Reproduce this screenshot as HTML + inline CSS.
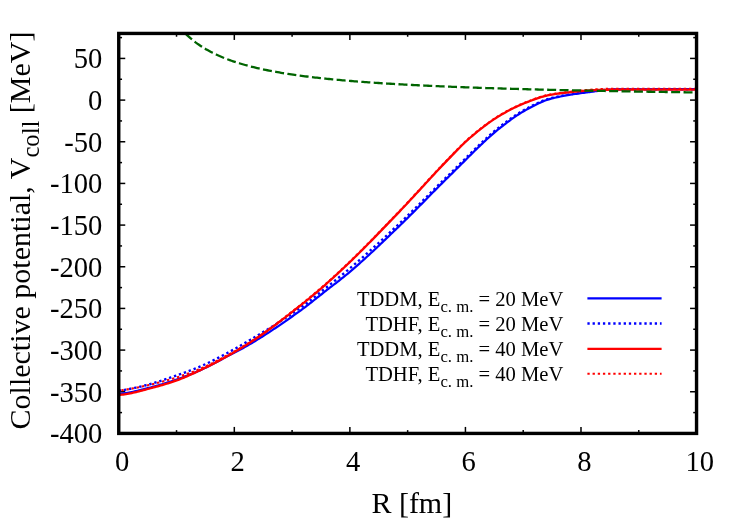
<!DOCTYPE html>
<html><head><meta charset="utf-8"><title>Collective potential</title>
<style>html,body{margin:0;padding:0;background:#fff;}body{width:747px;height:523px;position:relative;overflow:hidden;font-family:"Liberation Serif",serif;}</style>
</head><body>
<svg width="747" height="523" viewBox="0 0 747 523" style="position:absolute;left:0;top:0;will-change:transform">
<rect width="747" height="523" fill="#fff"/>
<g stroke="#000" stroke-width="1.5">
<line x1="118.75" y1="433.42" x2="125.25" y2="433.42"/>
<line x1="696.55" y1="433.42" x2="690.05" y2="433.42"/>
<line x1="118.75" y1="412.59" x2="122.05" y2="412.59"/>
<line x1="696.55" y1="412.59" x2="693.25" y2="412.59"/>
<line x1="118.75" y1="391.75" x2="125.25" y2="391.75"/>
<line x1="696.55" y1="391.75" x2="690.05" y2="391.75"/>
<line x1="118.75" y1="370.92" x2="122.05" y2="370.92"/>
<line x1="696.55" y1="370.92" x2="693.25" y2="370.92"/>
<line x1="118.75" y1="350.09" x2="125.25" y2="350.09"/>
<line x1="696.55" y1="350.09" x2="690.05" y2="350.09"/>
<line x1="118.75" y1="329.26" x2="122.05" y2="329.26"/>
<line x1="696.55" y1="329.26" x2="693.25" y2="329.26"/>
<line x1="118.75" y1="308.43" x2="125.25" y2="308.43"/>
<line x1="696.55" y1="308.43" x2="690.05" y2="308.43"/>
<line x1="118.75" y1="287.59" x2="122.05" y2="287.59"/>
<line x1="696.55" y1="287.59" x2="693.25" y2="287.59"/>
<line x1="118.75" y1="266.76" x2="125.25" y2="266.76"/>
<line x1="696.55" y1="266.76" x2="690.05" y2="266.76"/>
<line x1="118.75" y1="245.93" x2="122.05" y2="245.93"/>
<line x1="696.55" y1="245.93" x2="693.25" y2="245.93"/>
<line x1="118.75" y1="225.09" x2="125.25" y2="225.09"/>
<line x1="696.55" y1="225.09" x2="690.05" y2="225.09"/>
<line x1="118.75" y1="204.26" x2="122.05" y2="204.26"/>
<line x1="696.55" y1="204.26" x2="693.25" y2="204.26"/>
<line x1="118.75" y1="183.43" x2="125.25" y2="183.43"/>
<line x1="696.55" y1="183.43" x2="690.05" y2="183.43"/>
<line x1="118.75" y1="162.60" x2="122.05" y2="162.60"/>
<line x1="696.55" y1="162.60" x2="693.25" y2="162.60"/>
<line x1="118.75" y1="141.76" x2="125.25" y2="141.76"/>
<line x1="696.55" y1="141.76" x2="690.05" y2="141.76"/>
<line x1="118.75" y1="120.93" x2="122.05" y2="120.93"/>
<line x1="696.55" y1="120.93" x2="693.25" y2="120.93"/>
<line x1="118.75" y1="100.10" x2="125.25" y2="100.10"/>
<line x1="696.55" y1="100.10" x2="690.05" y2="100.10"/>
<line x1="118.75" y1="79.27" x2="122.05" y2="79.27"/>
<line x1="696.55" y1="79.27" x2="693.25" y2="79.27"/>
<line x1="118.75" y1="58.43" x2="125.25" y2="58.43"/>
<line x1="696.55" y1="58.43" x2="690.05" y2="58.43"/>
<line x1="118.75" y1="37.60" x2="122.05" y2="37.60"/>
<line x1="696.55" y1="37.60" x2="693.25" y2="37.60"/>
<line x1="118.75" y1="433.41999999999996" x2="118.75" y2="426.91999999999996"/>
<line x1="118.75" y1="33.43599999999999" x2="118.75" y2="39.93599999999999"/>
<line x1="176.53" y1="433.41999999999996" x2="176.53" y2="430.11999999999995"/>
<line x1="176.53" y1="33.43599999999999" x2="176.53" y2="36.73599999999999"/>
<line x1="234.31" y1="433.41999999999996" x2="234.31" y2="426.91999999999996"/>
<line x1="234.31" y1="33.43599999999999" x2="234.31" y2="39.93599999999999"/>
<line x1="292.09" y1="433.41999999999996" x2="292.09" y2="430.11999999999995"/>
<line x1="292.09" y1="33.43599999999999" x2="292.09" y2="36.73599999999999"/>
<line x1="349.87" y1="433.41999999999996" x2="349.87" y2="426.91999999999996"/>
<line x1="349.87" y1="33.43599999999999" x2="349.87" y2="39.93599999999999"/>
<line x1="407.65" y1="433.41999999999996" x2="407.65" y2="430.11999999999995"/>
<line x1="407.65" y1="33.43599999999999" x2="407.65" y2="36.73599999999999"/>
<line x1="465.43" y1="433.41999999999996" x2="465.43" y2="426.91999999999996"/>
<line x1="465.43" y1="33.43599999999999" x2="465.43" y2="39.93599999999999"/>
<line x1="523.21" y1="433.41999999999996" x2="523.21" y2="430.11999999999995"/>
<line x1="523.21" y1="33.43599999999999" x2="523.21" y2="36.73599999999999"/>
<line x1="580.99" y1="433.41999999999996" x2="580.99" y2="426.91999999999996"/>
<line x1="580.99" y1="33.43599999999999" x2="580.99" y2="39.93599999999999"/>
<line x1="638.77" y1="433.41999999999996" x2="638.77" y2="430.11999999999995"/>
<line x1="638.77" y1="33.43599999999999" x2="638.77" y2="36.73599999999999"/>
<line x1="696.55" y1="433.41999999999996" x2="696.55" y2="426.91999999999996"/>
<line x1="696.55" y1="33.43599999999999" x2="696.55" y2="39.93599999999999"/>
</g>
<g fill="none" stroke-linejoin="round">
<path d="M118.75,393.90 L120.20,393.78 L121.65,393.63 L123.09,393.46 L124.54,393.26 L125.99,393.05 L127.44,392.82 L128.89,392.57 L130.33,392.30 L131.78,392.01 L133.23,391.71 L134.68,391.40 L136.13,391.07 L137.58,390.73 L139.02,390.39 L140.47,390.03 L141.92,389.67 L143.37,389.31 L144.82,388.94 L146.26,388.56 L147.71,388.19 L149.16,387.82 L150.61,387.44 L152.06,387.06 L153.50,386.68 L154.95,386.28 L156.40,385.88 L157.85,385.47 L159.30,385.06 L160.75,384.63 L162.19,384.20 L163.64,383.76 L165.09,383.32 L166.54,382.87 L167.99,382.41 L169.43,381.95 L170.88,381.47 L172.33,381.00 L173.78,380.51 L175.23,380.02 L176.67,379.52 L178.12,379.02 L179.57,378.50 L181.02,377.98 L182.47,377.44 L183.92,376.90 L185.36,376.35 L186.81,375.79 L188.26,375.22 L189.71,374.64 L191.16,374.06 L192.60,373.46 L194.05,372.86 L195.50,372.25 L196.95,371.63 L198.40,371.00 L199.84,370.37 L201.29,369.72 L202.74,369.05 L204.19,368.37 L205.64,367.67 L207.09,366.96 L208.53,366.24 L209.98,365.50 L211.43,364.76 L212.88,364.01 L214.33,363.25 L215.77,362.48 L217.22,361.72 L218.67,360.95 L220.12,360.18 L221.57,359.41 L223.01,358.64 L224.46,357.88 L225.91,357.12 L227.36,356.37 L228.81,355.61 L230.26,354.86 L231.70,354.10 L233.15,353.35 L234.60,352.59 L236.05,351.82 L237.50,351.06 L238.94,350.28 L240.39,349.50 L241.84,348.72 L243.29,347.92 L244.74,347.12 L246.18,346.30 L247.63,345.48 L249.08,344.64 L250.53,343.79 L251.98,342.93 L253.43,342.06 L254.87,341.19 L256.32,340.31 L257.77,339.42 L259.22,338.52 L260.67,337.62 L262.11,336.71 L263.56,335.79 L265.01,334.87 L266.46,333.94 L267.91,333.00 L269.35,332.06 L270.80,331.11 L272.25,330.16 L273.70,329.20 L275.15,328.23 L276.60,327.26 L278.04,326.29 L279.49,325.30 L280.94,324.32 L282.39,323.32 L283.84,322.33 L285.28,321.33 L286.73,320.32 L288.18,319.31 L289.63,318.29 L291.08,317.27 L292.52,316.25 L293.97,315.22 L295.42,314.19 L296.87,313.15 L298.32,312.11 L299.77,311.07 L301.21,310.02 L302.66,308.95 L304.11,307.87 L305.56,306.78 L307.01,305.67 L308.45,304.55 L309.90,303.43 L311.35,302.30 L312.80,301.16 L314.25,300.01 L315.69,298.86 L317.14,297.71 L318.59,296.56 L320.04,295.41 L321.49,294.27 L322.93,293.12 L324.38,291.98 L325.83,290.85 L327.28,289.72 L328.73,288.60 L330.18,287.48 L331.62,286.36 L333.07,285.25 L334.52,284.13 L335.97,283.01 L337.42,281.89 L338.86,280.76 L340.31,279.62 L341.76,278.48 L343.21,277.32 L344.66,276.16 L346.10,274.98 L347.55,273.80 L349.00,272.59 L350.45,271.37 L351.90,270.14 L353.35,268.89 L354.79,267.64 L356.24,266.38 L357.69,265.11 L359.14,263.82 L360.59,262.53 L362.03,261.24 L363.48,259.93 L364.93,258.62 L366.38,257.30 L367.83,255.97 L369.27,254.64 L370.72,253.30 L372.17,251.95 L373.62,250.60 L375.07,249.24 L376.52,247.88 L377.96,246.51 L379.41,245.14 L380.86,243.77 L382.31,242.39 L383.76,241.01 L385.20,239.62 L386.65,238.24 L388.10,236.85 L389.55,235.46 L391.00,234.07 L392.44,232.67 L393.89,231.28 L395.34,229.89 L396.79,228.49 L398.24,227.10 L399.69,225.70 L401.13,224.31 L402.58,222.90 L404.03,221.49 L405.48,220.07 L406.93,218.65 L408.37,217.21 L409.82,215.78 L411.27,214.33 L412.72,212.89 L414.17,211.43 L415.61,209.98 L417.06,208.52 L418.51,207.05 L419.96,205.59 L421.41,204.12 L422.86,202.65 L424.30,201.18 L425.75,199.71 L427.20,198.23 L428.65,196.76 L430.10,195.29 L431.54,193.82 L432.99,192.35 L434.44,190.89 L435.89,189.43 L437.34,187.97 L438.78,186.51 L440.23,185.06 L441.68,183.61 L443.13,182.17 L444.58,180.73 L446.03,179.30 L447.47,177.87 L448.92,176.45 L450.37,175.04 L451.82,173.62 L453.27,172.20 L454.71,170.77 L456.16,169.33 L457.61,167.89 L459.06,166.45 L460.51,165.00 L461.95,163.55 L463.40,162.10 L464.85,160.65 L466.30,159.20 L467.75,157.76 L469.20,156.31 L470.64,154.87 L472.09,153.43 L473.54,152.00 L474.99,150.58 L476.44,149.16 L477.88,147.76 L479.33,146.36 L480.78,144.97 L482.23,143.59 L483.68,142.23 L485.12,140.88 L486.57,139.54 L488.02,138.22 L489.47,136.92 L490.92,135.63 L492.37,134.36 L493.81,133.11 L495.26,131.88 L496.71,130.67 L498.16,129.48 L499.61,128.31 L501.05,127.17 L502.50,126.03 L503.95,124.90 L505.40,123.78 L506.85,122.68 L508.29,121.59 L509.74,120.51 L511.19,119.45 L512.64,118.41 L514.09,117.39 L515.53,116.39 L516.98,115.42 L518.43,114.46 L519.88,113.54 L521.33,112.64 L522.78,111.77 L524.22,110.94 L525.67,110.13 L527.12,109.33 L528.57,108.53 L530.02,107.74 L531.46,106.96 L532.91,106.20 L534.36,105.45 L535.81,104.72 L537.26,104.00 L538.70,103.31 L540.15,102.65 L541.60,102.01 L543.05,101.41 L544.50,100.83 L545.95,100.30 L547.39,99.80 L548.84,99.34 L550.29,98.92 L551.74,98.53 L553.19,98.16 L554.63,97.80 L556.08,97.46 L557.53,97.14 L558.98,96.83 L560.43,96.53 L561.87,96.24 L563.32,95.97 L564.77,95.70 L566.22,95.44 L567.67,95.19 L569.12,94.95 L570.56,94.71 L572.01,94.47 L573.46,94.24 L574.91,94.01 L576.36,93.79 L577.80,93.58 L579.25,93.38 L580.70,93.18 L582.15,92.99 L583.60,92.81 L585.04,92.63 L586.49,92.44 L587.94,92.26 L589.39,92.08 L590.84,91.89 L592.29,91.69 L593.73,91.49 L595.18,91.28 L596.63,91.08 L598.08,90.89 L599.53,90.70 L600.97,90.53 L602.42,90.37 L603.87,90.24 L605.32,90.12 L606.77,90.00 L608.21,89.89 L609.66,89.78 L611.11,89.67 L612.56,89.57 L614.01,89.49 L615.46,89.42 L616.90,89.36 L618.35,89.32 L619.80,89.30 L621.25,89.30 L622.70,89.29 L624.14,89.29 L625.59,89.28 L627.04,89.28 L628.49,89.27 L629.94,89.27 L631.38,89.27 L632.83,89.26 L634.28,89.26 L635.73,89.26 L637.18,89.25 L638.63,89.25 L640.07,89.25 L641.52,89.24 L642.97,89.24 L644.42,89.24 L645.87,89.24 L647.31,89.23 L648.76,89.23 L650.21,89.23 L651.66,89.23 L653.11,89.23 L654.55,89.22 L656.00,89.22 L657.45,89.22 L658.90,89.22 L660.35,89.22 L661.80,89.22 L663.24,89.21 L664.69,89.21 L666.14,89.21 L667.59,89.21 L669.04,89.21 L670.48,89.21 L671.93,89.21 L673.38,89.21 L674.83,89.21 L676.28,89.20 L677.72,89.20 L679.17,89.20 L680.62,89.20 L682.07,89.20 L683.52,89.20 L684.97,89.20 L686.41,89.20 L687.86,89.20 L689.31,89.20 L690.76,89.20 L692.21,89.20 L693.65,89.20 L695.10,89.20 L696.55,89.20" stroke="#0000ff" stroke-width="2.2"/>
<path d="M118.75,390.70 L120.20,390.54 L121.65,390.33 L123.09,390.11 L124.54,389.88 L125.99,389.63 L127.44,389.36 L128.89,389.09 L130.33,388.80 L131.78,388.51 L133.23,388.21 L134.68,387.89 L136.13,387.57 L137.58,387.24 L139.02,386.91 L140.47,386.56 L141.92,386.21 L143.37,385.85 L144.82,385.49 L146.26,385.11 L147.71,384.74 L149.16,384.36 L150.61,383.97 L152.06,383.56 L153.50,383.14 L154.95,382.71 L156.40,382.27 L157.85,381.81 L159.30,381.35 L160.75,380.88 L162.19,380.41 L163.64,379.92 L165.09,379.43 L166.54,378.94 L167.99,378.44 L169.43,377.94 L170.88,377.43 L172.33,376.93 L173.78,376.43 L175.23,375.92 L176.67,375.42 L178.12,374.91 L179.57,374.40 L181.02,373.89 L182.47,373.37 L183.92,372.86 L185.36,372.33 L186.81,371.80 L188.26,371.26 L189.71,370.72 L191.16,370.17 L192.60,369.61 L194.05,369.04 L195.50,368.46 L196.95,367.87 L198.40,367.28 L199.84,366.67 L201.29,366.04 L202.74,365.40 L204.19,364.75 L205.64,364.09 L207.09,363.41 L208.53,362.72 L209.98,362.01 L211.43,361.30 L212.88,360.58 L214.33,359.85 L215.77,359.12 L217.22,358.37 L218.67,357.62 L220.12,356.87 L221.57,356.11 L223.01,355.35 L224.46,354.58 L225.91,353.82 L227.36,353.04 L228.81,352.25 L230.26,351.46 L231.70,350.66 L233.15,349.84 L234.60,349.03 L236.05,348.20 L237.50,347.37 L238.94,346.53 L240.39,345.69 L241.84,344.84 L243.29,343.99 L244.74,343.14 L246.18,342.28 L247.63,341.41 L249.08,340.55 L250.53,339.68 L251.98,338.82 L253.43,337.95 L254.87,337.08 L256.32,336.21 L257.77,335.34 L259.22,334.47 L260.67,333.60 L262.11,332.72 L263.56,331.84 L265.01,330.96 L266.46,330.08 L267.91,329.19 L269.35,328.30 L270.80,327.41 L272.25,326.51 L273.70,325.61 L275.15,324.71 L276.60,323.80 L278.04,322.88 L279.49,321.96 L280.94,321.03 L282.39,320.10 L283.84,319.16 L285.28,318.22 L286.73,317.27 L288.18,316.31 L289.63,315.35 L291.08,314.37 L292.52,313.39 L293.97,312.40 L295.42,311.41 L296.87,310.40 L298.32,309.39 L299.77,308.37 L301.21,307.33 L302.66,306.27 L304.11,305.20 L305.56,304.10 L307.01,302.99 L308.45,301.87 L309.90,300.73 L311.35,299.59 L312.80,298.43 L314.25,297.27 L315.69,296.11 L317.14,294.94 L318.59,293.76 L320.04,292.59 L321.49,291.42 L322.93,290.25 L324.38,289.09 L325.83,287.94 L327.28,286.78 L328.73,285.63 L330.18,284.48 L331.62,283.32 L333.07,282.17 L334.52,281.01 L335.97,279.85 L337.42,278.68 L338.86,277.52 L340.31,276.34 L341.76,275.16 L343.21,273.98 L344.66,272.78 L346.10,271.58 L347.55,270.37 L349.00,269.15 L350.45,267.92 L351.90,266.68 L353.35,265.44 L354.79,264.19 L356.24,262.93 L357.69,261.67 L359.14,260.41 L360.59,259.14 L362.03,257.86 L363.48,256.58 L364.93,255.29 L366.38,254.00 L367.83,252.71 L369.27,251.41 L370.72,250.11 L372.17,248.80 L373.62,247.49 L375.07,246.17 L376.52,244.85 L377.96,243.53 L379.41,242.20 L380.86,240.87 L382.31,239.53 L383.76,238.20 L385.20,236.85 L386.65,235.51 L388.10,234.16 L389.55,232.81 L391.00,231.46 L392.44,230.11 L393.89,228.75 L395.34,227.39 L396.79,226.03 L398.24,224.66 L399.69,223.30 L401.13,221.93 L402.58,220.55 L404.03,219.16 L405.48,217.77 L406.93,216.37 L408.37,214.96 L409.82,213.54 L411.27,212.13 L412.72,210.70 L414.17,209.27 L415.61,207.84 L417.06,206.40 L418.51,204.96 L419.96,203.51 L421.41,202.07 L422.86,200.62 L424.30,199.17 L425.75,197.72 L427.20,196.27 L428.65,194.81 L430.10,193.36 L431.54,191.91 L432.99,190.46 L434.44,189.01 L435.89,187.57 L437.34,186.13 L438.78,184.69 L440.23,183.25 L441.68,181.82 L443.13,180.39 L444.58,178.97 L446.03,177.56 L447.47,176.15 L448.92,174.74 L450.37,173.34 L451.82,171.94 L453.27,170.53 L454.71,169.11 L456.16,167.68 L457.61,166.25 L459.06,164.82 L460.51,163.38 L461.95,161.94 L463.40,160.49 L464.85,159.05 L466.30,157.60 L467.75,156.16 L469.20,154.72 L470.64,153.28 L472.09,151.85 L473.54,150.43 L474.99,149.01 L476.44,147.60 L477.88,146.19 L479.33,144.80 L480.78,143.42 L482.23,142.05 L483.68,140.69 L485.12,139.35 L486.57,138.02 L488.02,136.71 L489.47,135.41 L490.92,134.13 L492.37,132.88 L493.81,131.64 L495.26,130.42 L496.71,129.23 L498.16,128.06 L499.61,126.91 L501.05,125.78 L502.50,124.66 L503.95,123.56 L505.40,122.46 L506.85,121.38 L508.29,120.31 L509.74,119.25 L511.19,118.22 L512.64,117.20 L514.09,116.21 L515.53,115.23 L516.98,114.28 L518.43,113.35 L519.88,112.45 L521.33,111.58 L522.78,110.74 L524.22,109.92 L525.67,109.14 L527.12,108.36 L528.57,107.59 L530.02,106.83 L531.46,106.08 L532.91,105.34 L534.36,104.61 L535.81,103.91 L537.26,103.22 L538.70,102.55 L540.15,101.91 L541.60,101.30 L543.05,100.72 L544.50,100.17 L545.95,99.65 L547.39,99.17 L548.84,98.72 L550.29,98.32 L551.74,97.95 L553.19,97.59 L554.63,97.25 L556.08,96.93 L557.53,96.62 L558.98,96.32 L560.43,96.03 L561.87,95.76 L563.32,95.50 L564.77,95.24 L566.22,95.00 L567.67,94.76 L569.12,94.52 L570.56,94.29 L572.01,94.06 L573.46,93.84 L574.91,93.61 L576.36,93.39 L577.80,93.18 L579.25,92.98 L580.70,92.78 L582.15,92.58 L583.60,92.40 L585.04,92.21 L586.49,92.03 L587.94,91.85 L589.39,91.67 L590.84,91.50 L592.29,91.31 L593.73,91.12 L595.18,90.93 L596.63,90.75 L598.08,90.57 L599.53,90.41 L600.97,90.26 L602.42,90.13 L603.87,90.03 L605.32,89.94 L606.77,89.86 L608.21,89.78 L609.66,89.71 L611.11,89.64 L612.56,89.58 L614.01,89.52 L615.46,89.48 L616.90,89.44 L618.35,89.41 L619.80,89.40 L621.25,89.40 L622.70,89.39 L624.14,89.39 L625.59,89.38 L627.04,89.38 L628.49,89.38 L629.94,89.37 L631.38,89.37 L632.83,89.36 L634.28,89.36 L635.73,89.36 L637.18,89.35 L638.63,89.35 L640.07,89.35 L641.52,89.35 L642.97,89.34 L644.42,89.34 L645.87,89.34 L647.31,89.34 L648.76,89.33 L650.21,89.33 L651.66,89.33 L653.11,89.33 L654.55,89.32 L656.00,89.32 L657.45,89.32 L658.90,89.32 L660.35,89.32 L661.80,89.32 L663.24,89.31 L664.69,89.31 L666.14,89.31 L667.59,89.31 L669.04,89.31 L670.48,89.31 L671.93,89.31 L673.38,89.31 L674.83,89.31 L676.28,89.30 L677.72,89.30 L679.17,89.30 L680.62,89.30 L682.07,89.30 L683.52,89.30 L684.97,89.30 L686.41,89.30 L687.86,89.30 L689.31,89.30 L690.76,89.30 L692.21,89.30 L693.65,89.30 L695.10,89.30 L696.55,89.30" stroke="#0000ff" stroke-width="2.4" stroke-dasharray="2.4 2.8"/>
<path d="M118.75,395.00 L120.20,394.88 L121.65,394.73 L123.09,394.56 L124.54,394.37 L125.99,394.15 L127.44,393.91 L128.89,393.65 L130.33,393.36 L131.78,393.06 L133.23,392.74 L134.68,392.40 L136.13,392.06 L137.58,391.70 L139.02,391.33 L140.47,390.95 L141.92,390.56 L143.37,390.18 L144.82,389.79 L146.26,389.40 L147.71,389.01 L149.16,388.62 L150.61,388.24 L152.06,387.86 L153.50,387.47 L154.95,387.08 L156.40,386.69 L157.85,386.29 L159.30,385.89 L160.75,385.48 L162.19,385.06 L163.64,384.64 L165.09,384.21 L166.54,383.77 L167.99,383.32 L169.43,382.86 L170.88,382.39 L172.33,381.91 L173.78,381.42 L175.23,380.92 L176.67,380.40 L178.12,379.87 L179.57,379.31 L181.02,378.75 L182.47,378.17 L183.92,377.57 L185.36,376.96 L186.81,376.34 L188.26,375.71 L189.71,375.07 L191.16,374.42 L192.60,373.76 L194.05,373.10 L195.50,372.42 L196.95,371.74 L198.40,371.06 L199.84,370.37 L201.29,369.68 L202.74,368.98 L204.19,368.28 L205.64,367.57 L207.09,366.85 L208.53,366.12 L209.98,365.39 L211.43,364.66 L212.88,363.91 L214.33,363.16 L215.77,362.40 L217.22,361.64 L218.67,360.87 L220.12,360.09 L221.57,359.31 L223.01,358.52 L224.46,357.72 L225.91,356.92 L227.36,356.11 L228.81,355.29 L230.26,354.47 L231.70,353.64 L233.15,352.81 L234.60,351.96 L236.05,351.11 L237.50,350.26 L238.94,349.40 L240.39,348.53 L241.84,347.65 L243.29,346.77 L244.74,345.88 L246.18,344.99 L247.63,344.09 L249.08,343.18 L250.53,342.26 L251.98,341.34 L253.43,340.40 L254.87,339.45 L256.32,338.48 L257.77,337.51 L259.22,336.52 L260.67,335.53 L262.11,334.52 L263.56,333.50 L265.01,332.47 L266.46,331.44 L267.91,330.39 L269.35,329.34 L270.80,328.28 L272.25,327.21 L273.70,326.14 L275.15,325.05 L276.60,323.96 L278.04,322.87 L279.49,321.77 L280.94,320.66 L282.39,319.55 L283.84,318.44 L285.28,317.32 L286.73,316.19 L288.18,315.07 L289.63,313.94 L291.08,312.81 L292.52,311.67 L293.97,310.54 L295.42,309.40 L296.87,308.26 L298.32,307.12 L299.77,305.98 L301.21,304.84 L302.66,303.69 L304.11,302.54 L305.56,301.37 L307.01,300.20 L308.45,299.02 L309.90,297.83 L311.35,296.63 L312.80,295.43 L314.25,294.22 L315.69,293.00 L317.14,291.78 L318.59,290.54 L320.04,289.30 L321.49,288.06 L322.93,286.80 L324.38,285.54 L325.83,284.27 L327.28,282.99 L328.73,281.71 L330.18,280.41 L331.62,279.10 L333.07,277.79 L334.52,276.47 L335.97,275.14 L337.42,273.80 L338.86,272.46 L340.31,271.11 L341.76,269.75 L343.21,268.38 L344.66,267.01 L346.10,265.63 L347.55,264.25 L349.00,262.86 L350.45,261.47 L351.90,260.07 L353.35,258.66 L354.79,257.24 L356.24,255.82 L357.69,254.40 L359.14,252.96 L360.59,251.53 L362.03,250.08 L363.48,248.63 L364.93,247.18 L366.38,245.72 L367.83,244.26 L369.27,242.79 L370.72,241.32 L372.17,239.84 L373.62,238.36 L375.07,236.88 L376.52,235.39 L377.96,233.90 L379.41,232.41 L380.86,230.92 L382.31,229.42 L383.76,227.92 L385.20,226.42 L386.65,224.91 L388.10,223.41 L389.55,221.90 L391.00,220.39 L392.44,218.88 L393.89,217.37 L395.34,215.86 L396.79,214.35 L398.24,212.84 L399.69,211.33 L401.13,209.81 L402.58,208.29 L404.03,206.76 L405.48,205.23 L406.93,203.68 L408.37,202.14 L409.82,200.58 L411.27,199.02 L412.72,197.46 L414.17,195.89 L415.61,194.32 L417.06,192.75 L418.51,191.17 L419.96,189.60 L421.41,188.02 L422.86,186.44 L424.30,184.86 L425.75,183.28 L427.20,181.71 L428.65,180.13 L430.10,178.56 L431.54,176.99 L432.99,175.43 L434.44,173.87 L435.89,172.31 L437.34,170.76 L438.78,169.21 L440.23,167.67 L441.68,166.14 L443.13,164.62 L444.58,163.10 L446.03,161.59 L447.47,160.09 L448.92,158.60 L450.37,157.12 L451.82,155.64 L453.27,154.15 L454.71,152.65 L456.16,151.16 L457.61,149.67 L459.06,148.19 L460.51,146.73 L461.95,145.28 L463.40,143.86 L464.85,142.47 L466.30,141.11 L467.75,139.78 L469.20,138.50 L470.64,137.25 L472.09,136.02 L473.54,134.81 L474.99,133.60 L476.44,132.41 L477.88,131.23 L479.33,130.07 L480.78,128.92 L482.23,127.79 L483.68,126.68 L485.12,125.58 L486.57,124.50 L488.02,123.44 L489.47,122.40 L490.92,121.38 L492.37,120.38 L493.81,119.40 L495.26,118.45 L496.71,117.52 L498.16,116.62 L499.61,115.74 L501.05,114.88 L502.50,114.03 L503.95,113.20 L505.40,112.39 L506.85,111.59 L508.29,110.81 L509.74,110.04 L511.19,109.29 L512.64,108.55 L514.09,107.83 L515.53,107.13 L516.98,106.45 L518.43,105.78 L519.88,105.14 L521.33,104.51 L522.78,103.90 L524.22,103.31 L525.67,102.74 L527.12,102.17 L528.57,101.60 L530.02,101.04 L531.46,100.49 L532.91,99.94 L534.36,99.41 L535.81,98.88 L537.26,98.38 L538.70,97.89 L540.15,97.42 L541.60,96.97 L543.05,96.55 L544.50,96.15 L545.95,95.78 L547.39,95.43 L548.84,95.12 L550.29,94.85 L551.74,94.59 L553.19,94.35 L554.63,94.12 L556.08,93.90 L557.53,93.69 L558.98,93.49 L560.43,93.30 L561.87,93.12 L563.32,92.95 L564.77,92.78 L566.22,92.62 L567.67,92.46 L569.12,92.30 L570.56,92.15 L572.01,92.00 L573.46,91.86 L574.91,91.71 L576.36,91.56 L577.80,91.42 L579.25,91.27 L580.70,91.13 L582.15,91.00 L583.60,90.87 L585.04,90.75 L586.49,90.63 L587.94,90.53 L589.39,90.44 L590.84,90.35 L592.29,90.27 L593.73,90.20 L595.18,90.13 L596.63,90.06 L598.08,89.99 L599.53,89.94 L600.97,89.89 L602.42,89.84 L603.87,89.81 L605.32,89.78 L606.77,89.75 L608.21,89.73 L609.66,89.70 L611.11,89.68 L612.56,89.66 L614.01,89.64 L615.46,89.62 L616.90,89.61 L618.35,89.60 L619.80,89.60 L621.25,89.60 L622.70,89.60 L624.14,89.60 L625.59,89.60 L627.04,89.60 L628.49,89.60 L629.94,89.60 L631.38,89.60 L632.83,89.60 L634.28,89.60 L635.73,89.60 L637.18,89.60 L638.63,89.60 L640.07,89.60 L641.52,89.60 L642.97,89.60 L644.42,89.60 L645.87,89.60 L647.31,89.60 L648.76,89.60 L650.21,89.60 L651.66,89.60 L653.11,89.60 L654.55,89.60 L656.00,89.60 L657.45,89.60 L658.90,89.60 L660.35,89.60 L661.80,89.60 L663.24,89.60 L664.69,89.60 L666.14,89.60 L667.59,89.60 L669.04,89.60 L670.48,89.60 L671.93,89.60 L673.38,89.60 L674.83,89.60 L676.28,89.60 L677.72,89.60 L679.17,89.60 L680.62,89.60 L682.07,89.60 L683.52,89.60 L684.97,89.60 L686.41,89.60 L687.86,89.60 L689.31,89.60 L690.76,89.60 L692.21,89.60 L693.65,89.60 L695.10,89.60 L696.55,89.60" stroke="#ff0000" stroke-width="2.3"/>
<path d="M118.75,390.70 L120.20,390.53 L121.65,390.32 L123.09,390.10 L124.54,389.88 L125.99,389.63 L127.44,389.38 L128.89,389.13 L130.33,388.87 L131.78,388.60 L133.23,388.33 L134.68,388.05 L136.13,387.76 L137.58,387.47 L139.02,387.18 L140.47,386.87 L141.92,386.57 L143.37,386.26 L144.82,385.94 L146.26,385.62 L147.71,385.29 L149.16,384.96 L150.61,384.63 L152.06,384.29 L153.50,383.94 L154.95,383.58 L156.40,383.22 L157.85,382.85 L159.30,382.48 L160.75,382.10 L162.19,381.71 L163.64,381.32 L165.09,380.92 L166.54,380.51 L167.99,380.10 L169.43,379.68 L170.88,379.25 L172.33,378.82 L173.78,378.38 L175.23,377.93 L176.67,377.48 L178.12,377.01 L179.57,376.54 L181.02,376.06 L182.47,375.57 L183.92,375.07 L185.36,374.56 L186.81,374.04 L188.26,373.52 L189.71,372.98 L191.16,372.44 L192.60,371.88 L194.05,371.32 L195.50,370.74 L196.95,370.16 L198.40,369.57 L199.84,368.97 L201.29,368.35 L202.74,367.72 L204.19,367.06 L205.64,366.40 L207.09,365.71 L208.53,365.02 L209.98,364.31 L211.43,363.59 L212.88,362.86 L214.33,362.12 L215.77,361.37 L217.22,360.61 L218.67,359.86 L220.12,359.09 L221.57,358.32 L223.01,357.56 L224.46,356.79 L225.91,356.02 L227.36,355.24 L228.81,354.46 L230.26,353.68 L231.70,352.89 L233.15,352.10 L234.60,351.30 L236.05,350.49 L237.50,349.68 L238.94,348.85 L240.39,348.02 L241.84,347.17 L243.29,346.32 L244.74,345.45 L246.18,344.57 L247.63,343.68 L249.08,342.78 L250.53,341.86 L251.98,340.93 L253.43,339.99 L254.87,339.04 L256.32,338.07 L257.77,337.09 L259.22,336.11 L260.67,335.11 L262.11,334.10 L263.56,333.08 L265.01,332.05 L266.46,331.02 L267.91,329.97 L269.35,328.92 L270.80,327.86 L272.25,326.79 L273.70,325.72 L275.15,324.64 L276.60,323.55 L278.04,322.46 L279.49,321.36 L280.94,320.25 L282.39,319.14 L283.84,318.03 L285.28,316.91 L286.73,315.79 L288.18,314.66 L289.63,313.53 L291.08,312.40 L292.52,311.27 L293.97,310.14 L295.42,309.00 L296.87,307.86 L298.32,306.72 L299.77,305.58 L301.21,304.44 L302.66,303.29 L304.11,302.14 L305.56,300.97 L307.01,299.80 L308.45,298.62 L309.90,297.43 L311.35,296.23 L312.80,295.03 L314.25,293.82 L315.69,292.60 L317.14,291.38 L318.59,290.14 L320.04,288.90 L321.49,287.66 L322.93,286.40 L324.38,285.14 L325.83,283.87 L327.28,282.59 L328.73,281.31 L330.18,280.01 L331.62,278.70 L333.07,277.39 L334.52,276.07 L335.97,274.74 L337.42,273.40 L338.86,272.06 L340.31,270.71 L341.76,269.35 L343.21,267.98 L344.66,266.61 L346.10,265.23 L347.55,263.85 L349.00,262.46 L350.45,261.07 L351.90,259.67 L353.35,258.26 L354.79,256.84 L356.24,255.42 L357.69,254.00 L359.14,252.56 L360.59,251.13 L362.03,249.68 L363.48,248.23 L364.93,246.78 L366.38,245.32 L367.83,243.86 L369.27,242.39 L370.72,240.92 L372.17,239.44 L373.62,237.96 L375.07,236.48 L376.52,234.99 L377.96,233.50 L379.41,232.01 L380.86,230.52 L382.31,229.02 L383.76,227.52 L385.20,226.02 L386.65,224.51 L388.10,223.01 L389.55,221.50 L391.00,219.99 L392.44,218.48 L393.89,216.97 L395.34,215.46 L396.79,213.95 L398.24,212.44 L399.69,210.93 L401.13,209.41 L402.58,207.89 L404.03,206.36 L405.48,204.83 L406.93,203.28 L408.37,201.74 L409.82,200.18 L411.27,198.62 L412.72,197.06 L414.17,195.49 L415.61,193.92 L417.06,192.35 L418.51,190.77 L419.96,189.20 L421.41,187.62 L422.86,186.04 L424.30,184.46 L425.75,182.88 L427.20,181.31 L428.65,179.73 L430.10,178.16 L431.54,176.59 L432.99,175.03 L434.44,173.47 L435.89,171.91 L437.34,170.36 L438.78,168.81 L440.23,167.27 L441.68,165.74 L443.13,164.22 L444.58,162.70 L446.03,161.19 L447.47,159.69 L448.92,158.20 L450.37,156.72 L451.82,155.24 L453.27,153.75 L454.71,152.25 L456.16,150.76 L457.61,149.27 L459.06,147.79 L460.51,146.33 L461.95,144.88 L463.40,143.46 L464.85,142.07 L466.30,140.71 L467.75,139.38 L469.20,138.10 L470.64,136.85 L472.09,135.62 L473.54,134.41 L474.99,133.20 L476.44,132.01 L477.88,130.83 L479.33,129.67 L480.78,128.52 L482.23,127.39 L483.68,126.28 L485.12,125.18 L486.57,124.10 L488.02,123.04 L489.47,122.00 L490.92,120.98 L492.37,119.98 L493.81,119.00 L495.26,118.05 L496.71,117.12 L498.16,116.22 L499.61,115.34 L501.05,114.48 L502.50,113.63 L503.95,112.80 L505.40,111.99 L506.85,111.19 L508.29,110.41 L509.74,109.64 L511.19,108.89 L512.64,108.15 L514.09,107.43 L515.53,106.73 L516.98,106.05 L518.43,105.38 L519.88,104.74 L521.33,104.11 L522.78,103.50 L524.22,102.91 L525.67,102.34 L527.12,101.77 L528.57,101.20 L530.02,100.64 L531.46,100.09 L532.91,99.54 L534.36,99.01 L535.81,98.48 L537.26,97.98 L538.70,97.49 L540.15,97.02 L541.60,96.57 L543.05,96.15 L544.50,95.75 L545.95,95.38 L547.39,95.03 L548.84,94.72 L550.29,94.45 L551.74,94.19 L553.19,93.95 L554.63,93.72 L556.08,93.51 L557.53,93.31 L558.98,93.11 L560.43,92.93 L561.87,92.75 L563.32,92.58 L564.77,92.41 L566.22,92.25 L567.67,92.09 L569.12,91.94 L570.56,91.78 L572.01,91.63 L573.46,91.47 L574.91,91.31 L576.36,91.15 L577.80,90.99 L579.25,90.83 L580.70,90.67 L582.15,90.52 L583.60,90.37 L585.04,90.23 L586.49,90.10 L587.94,89.97 L589.39,89.85 L590.84,89.73 L592.29,89.62 L593.73,89.51 L595.18,89.39 L596.63,89.29 L598.08,89.19 L599.53,89.10 L600.97,89.02 L602.42,88.96 L603.87,88.91 L605.32,88.88 L606.77,88.85 L608.21,88.82 L609.66,88.80 L611.11,88.77 L612.56,88.75 L614.01,88.73 L615.46,88.72 L616.90,88.71 L618.35,88.70 L619.80,88.70 L621.25,88.70 L622.70,88.70 L624.14,88.70 L625.59,88.70 L627.04,88.70 L628.49,88.70 L629.94,88.70 L631.38,88.70 L632.83,88.70 L634.28,88.70 L635.73,88.70 L637.18,88.70 L638.63,88.70 L640.07,88.70 L641.52,88.70 L642.97,88.70 L644.42,88.70 L645.87,88.70 L647.31,88.70 L648.76,88.70 L650.21,88.70 L651.66,88.70 L653.11,88.70 L654.55,88.70 L656.00,88.70 L657.45,88.70 L658.90,88.70 L660.35,88.70 L661.80,88.70 L663.24,88.70 L664.69,88.70 L666.14,88.70 L667.59,88.70 L669.04,88.70 L670.48,88.70 L671.93,88.70 L673.38,88.70 L674.83,88.70 L676.28,88.70 L677.72,88.70 L679.17,88.70 L680.62,88.70 L682.07,88.70 L683.52,88.70 L684.97,88.70 L686.41,88.70 L687.86,88.70 L689.31,88.70 L690.76,88.70 L692.21,88.70 L693.65,88.70 L695.10,88.70 L696.55,88.70" stroke="#ff0000" stroke-width="2.1" stroke-dasharray="2.4 2.8" stroke-dashoffset="2.6"/>
<path d="M185.31,33.44 L187.02,35.11 L188.73,36.69 L190.44,38.21 L192.15,39.65 L193.86,41.02 L195.57,42.34 L197.28,43.60 L198.99,44.80 L200.70,45.95 L202.41,47.06 L204.12,48.12 L205.83,49.14 L207.54,50.12 L209.25,51.07 L210.96,51.98 L212.67,52.85 L214.38,53.70 L216.09,54.51 L217.80,55.30 L219.51,56.06 L221.22,56.80 L222.93,57.51 L224.64,58.19 L226.35,58.86 L228.06,59.51 L229.77,60.13 L231.48,60.74 L233.19,61.32 L234.90,61.90 L236.61,62.45 L238.32,62.99 L240.03,63.51 L241.74,64.02 L243.45,64.52 L245.16,65.00 L246.87,65.46 L248.58,65.92 L250.29,66.37 L252.00,66.80 L253.71,67.22 L255.42,67.63 L257.13,68.03 L258.84,68.42 L260.54,68.81 L262.25,69.18 L263.96,69.54 L265.67,69.90 L267.38,70.25 L269.09,70.59 L270.80,70.92 L272.51,71.24 L274.22,71.56 L275.93,71.87 L277.64,72.17 L279.35,72.47 L281.06,72.76 L282.77,73.05 L284.48,73.33 L286.19,73.60 L287.90,73.87 L289.61,74.13 L291.32,74.39 L293.03,74.64 L294.74,74.89 L296.45,75.13 L298.16,75.37 L299.87,75.60 L301.58,75.83 L303.29,76.05 L305.00,76.28 L306.71,76.49 L308.42,76.71 L310.13,76.91 L311.84,77.12 L313.55,77.32 L315.26,77.52 L316.97,77.71 L318.68,77.91 L320.39,78.09 L322.10,78.28 L323.81,78.46 L325.52,78.64 L327.23,78.82 L328.94,78.99 L330.65,79.16 L332.36,79.33 L334.07,79.49 L335.78,79.65 L337.49,79.81 L339.20,79.97 L340.91,80.13 L342.62,80.28 L344.33,80.43 L346.04,80.58 L347.75,80.72 L349.46,80.87 L351.17,81.01 L352.88,81.15 L354.59,81.28 L356.29,81.42 L358.00,81.55 L359.71,81.69 L361.42,81.81 L363.13,81.94 L364.84,82.07 L366.55,82.19 L368.26,82.32 L369.97,82.44 L371.68,82.56 L373.39,82.67 L375.10,82.79 L376.81,82.91 L378.52,83.02 L380.23,83.13 L381.94,83.24 L383.65,83.35 L385.36,83.46 L387.07,83.56 L388.78,83.67 L390.49,83.77 L392.20,83.87 L393.91,83.97 L395.62,84.07 L397.33,84.17 L399.04,84.27 L400.75,84.36 L402.46,84.46 L404.17,84.55 L405.88,84.65 L407.59,84.74 L409.30,84.83 L411.01,84.92 L412.72,85.01 L414.43,85.09 L416.14,85.18 L417.85,85.26 L419.56,85.35 L421.27,85.43 L422.98,85.51 L424.69,85.60 L426.40,85.68 L428.11,85.76 L429.82,85.84 L431.53,85.91 L433.24,85.99 L434.95,86.07 L436.66,86.14 L438.37,86.22 L440.08,86.29 L441.79,86.36 L443.50,86.44 L445.21,86.51 L446.92,86.58 L448.63,86.65 L450.34,86.72 L452.05,86.79 L453.75,86.85 L455.46,86.92 L457.17,86.99 L458.88,87.05 L460.59,87.12 L462.30,87.18 L464.01,87.25 L465.72,87.31 L467.43,87.37 L469.14,87.44 L470.85,87.50 L472.56,87.56 L474.27,87.62 L475.98,87.68 L477.69,87.74 L479.40,87.80 L481.11,87.85 L482.82,87.91 L484.53,87.97 L486.24,88.03 L487.95,88.08 L489.66,88.14 L491.37,88.19 L493.08,88.25 L494.79,88.30 L496.50,88.35 L498.21,88.41 L499.92,88.46 L501.63,88.51 L503.34,88.56 L505.05,88.61 L506.76,88.66 L508.47,88.71 L510.18,88.76 L511.89,88.81 L513.60,88.86 L515.31,88.91 L517.02,88.96 L518.73,89.01 L520.44,89.05 L522.15,89.10 L523.86,89.15 L525.57,89.19 L527.28,89.24 L528.99,89.28 L530.70,89.33 L532.41,89.37 L534.12,89.42 L535.83,89.46 L537.54,89.50 L539.25,89.55 L540.96,89.59 L542.67,89.63 L544.38,89.67 L546.09,89.72 L547.80,89.76 L549.51,89.80 L551.21,89.84 L552.92,89.88 L554.63,89.92 L556.34,89.96 L558.05,90.00 L559.76,90.04 L561.47,90.08 L563.18,90.12 L564.89,90.15 L566.60,90.19 L568.31,90.23 L570.02,90.27 L571.73,90.30 L573.44,90.34 L575.15,90.38 L576.86,90.41 L578.57,90.45 L580.28,90.49 L581.99,90.52 L583.70,90.56 L585.41,90.59 L587.12,90.63 L588.83,90.66 L590.54,90.69 L592.25,90.73 L593.96,90.76 L595.67,90.80 L597.38,90.83 L599.09,90.86 L600.80,90.89 L602.51,90.93 L604.22,90.96 L605.93,90.99 L607.64,91.02 L609.35,91.06 L611.06,91.09 L612.77,91.12 L614.48,91.15 L616.19,91.18 L617.90,91.21 L619.61,91.24 L621.32,91.27 L623.03,91.30 L624.74,91.33 L626.45,91.36 L628.16,91.39 L629.87,91.42 L631.58,91.45 L633.29,91.48 L635.00,91.50 L636.71,91.53 L638.42,91.56 L640.13,91.59 L641.84,91.62 L643.55,91.64 L645.26,91.67 L646.97,91.70 L648.67,91.73 L650.38,91.75 L652.09,91.78 L653.80,91.81 L655.51,91.83 L657.22,91.86 L658.93,91.89 L660.64,91.91 L662.35,91.94 L664.06,91.96 L665.77,91.99 L667.48,92.01 L669.19,92.04 L670.90,92.06 L672.61,92.09 L674.32,92.11 L676.03,92.14 L677.74,92.16 L679.45,92.19 L681.16,92.21 L682.87,92.23 L684.58,92.26 L686.29,92.28 L688.00,92.30 L689.71,92.33 L691.42,92.35 L693.13,92.37 L694.84,92.40 L696.55,92.42" stroke="#006400" stroke-width="2.3" stroke-dasharray="9.0 3.4"/>
</g>
<rect x="118.75" y="33.44" width="577.80" height="399.98" fill="none" stroke="#000" stroke-width="3.4"/>
<line x1="587.4" y1="298.4" x2="661.6" y2="298.4" stroke="#0000ff" stroke-width="2.2"/>
<line x1="587.4" y1="323.5" x2="661.6" y2="323.5" stroke="#0000ff" stroke-width="2.4" stroke-dasharray="2.3 2.88"/>
<line x1="587.4" y1="348.9" x2="661.6" y2="348.9" stroke="#ff0000" stroke-width="2.3"/>
<line x1="587.4" y1="373.8" x2="661.6" y2="373.8" stroke="#ff0000" stroke-width="1.9" stroke-dasharray="2.3 2.88"/>
<g font-family="'Liberation Serif', serif" fill="#000">
<text x="102.4" y="443.22" font-size="28.6" text-anchor="end">-400</text>
<text x="102.4" y="401.56" font-size="28.6" text-anchor="end">-350</text>
<text x="102.4" y="359.89" font-size="28.6" text-anchor="end">-300</text>
<text x="102.4" y="318.23" font-size="28.6" text-anchor="end">-250</text>
<text x="102.4" y="276.56" font-size="28.6" text-anchor="end">-200</text>
<text x="102.4" y="234.90" font-size="28.6" text-anchor="end">-150</text>
<text x="102.4" y="193.23" font-size="28.6" text-anchor="end">-100</text>
<text x="102.4" y="151.56" font-size="28.6" text-anchor="end">-50</text>
<text x="102.4" y="109.90" font-size="28.6" text-anchor="end">0</text>
<text x="102.4" y="68.23" font-size="28.6" text-anchor="end">50</text>
<text x="122.05" y="470.9" font-size="28.6" text-anchor="middle">0</text>
<text x="237.61" y="470.9" font-size="28.6" text-anchor="middle">2</text>
<text x="353.17" y="470.9" font-size="28.6" text-anchor="middle">4</text>
<text x="468.73" y="470.9" font-size="28.6" text-anchor="middle">6</text>
<text x="584.29" y="470.9" font-size="28.6" text-anchor="middle">8</text>
<text x="699.85" y="470.9" font-size="28.6" text-anchor="middle">10</text>
<text x="411.8" y="512.8" font-size="30.0" word-spacing="0" text-anchor="middle">R [fm]</text>
<text transform="translate(29.8,230.5) rotate(-90)" font-size="30.0" word-spacing="0" text-anchor="middle">Collective potential, V<tspan font-size="24.60" dy="9.6">coll</tspan><tspan dy="-9.6"> [MeV]</tspan></text>
<text x="563.3" y="306.0" font-size="20.6" text-anchor="end">TDDM, E<tspan font-size="16.69" dy="6">c. m.</tspan><tspan dy="-6"> = 20 MeV</tspan></text>
<text x="563.3" y="331.2" font-size="20.6" text-anchor="end">TDHF, E<tspan font-size="16.69" dy="6">c. m.</tspan><tspan dy="-6"> = 20 MeV</tspan></text>
<text x="563.3" y="356.3" font-size="20.6" text-anchor="end">TDDM, E<tspan font-size="16.69" dy="6">c. m.</tspan><tspan dy="-6"> = 40 MeV</tspan></text>
<text x="563.3" y="381.4" font-size="20.6" text-anchor="end">TDHF, E<tspan font-size="16.69" dy="6">c. m.</tspan><tspan dy="-6"> = 40 MeV</tspan></text>
</g>
</svg>
</body></html>
